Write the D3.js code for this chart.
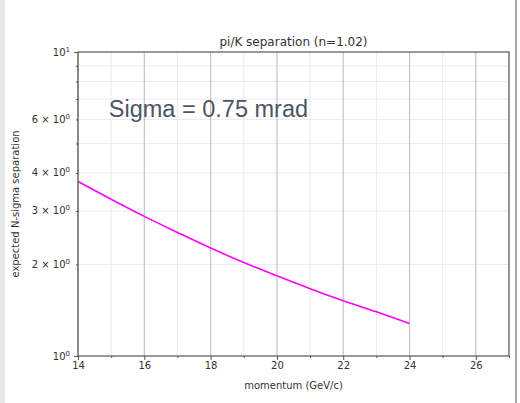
<!DOCTYPE html>
<html>
<head>
<meta charset="utf-8">
<script src="https://cdn.jsdelivr.net/npm/d3@7"></script>
<style>
  html, body { margin: 0; padding: 0; background: #fff; }
  svg { display: block; }
</style>
</head>
<body>
<svg id="chart" width="520" height="403"></svg>
<script>
// momentum (GeV/c)
const momentum = [14, 15, 16, 17, 18, 19, 20, 21, 22, 23, 24];
// expected N-sigma pi/K separation
const separation = [3.75, 3.28, 2.88, 2.55, 2.265, 2.03, 1.835, 1.665, 1.52, 1.397, 1.278];

const xMajorTicks = [14, 16, 18, 20, 22, 24, 26];
const xMinorTicks = [15, 17, 19, 21, 23, 25, 27];
const yMajorTicks = [1, 10];
const yMinorTicks = [2, 3, 4, 5, 6, 7, 8, 9];
const yLabelled = [
  { v: 10, m: "10", e: "1" },
  { v: 6, m: "6 × 10", e: "0" },
  { v: 4, m: "4 × 10", e: "0" },
  { v: 3, m: "3 × 10", e: "0" },
  { v: 2, m: "2 × 10", e: "0" },
  { v: 1, m: "10", e: "0" }
];

const titleText = "pi/K separation (n=1.02)";
const xLabel = "momentum (GeV/c)";
const yLabel = "expected N-sigma separation";
const note = "Sigma = 0.75 mrad";

const svg = d3.select("#chart");
const W = 520, H = 403;
const m = { left: 78, right: 11, top: 52, bottom: 47 };
const pw = W - m.left - m.right, ph = H - m.top - m.bottom;

// page frame
svg.append("rect").attr("x", 0).attr("y", 0).attr("width", 5).attr("height", H).attr("fill", "#e6e6e6");
svg.append("line").attr("x1", 516).attr("x2", 516).attr("y1", 0).attr("y2", H)
  .attr("stroke", "#8a8a8a").attr("stroke-width", 1.5);

const x = d3.scaleLinear().domain([14, 27]).range([m.left, m.left + pw]);
const y = d3.scaleLog().domain([1, 10]).range([m.top + ph, m.top]);

const g = svg.append("g");
const font = "'DejaVu Sans', sans-serif";

// grid
g.selectAll(".gxm").data(xMinorTicks).join("line")
  .attr("x1", d => x(d)).attr("x2", d => x(d)).attr("y1", m.top).attr("y2", m.top + ph)
  .attr("stroke", "#ebebeb").attr("stroke-width", 1);
g.selectAll(".gym").data(yMinorTicks).join("line")
  .attr("x1", m.left).attr("x2", m.left + pw).attr("y1", d => y(d)).attr("y2", d => y(d))
  .attr("stroke", "#ebebeb").attr("stroke-width", 1);
g.selectAll(".gxM").data(xMajorTicks).join("line")
  .attr("x1", d => x(d)).attr("x2", d => x(d)).attr("y1", m.top).attr("y2", m.top + ph)
  .attr("stroke", "#c4c4c4").attr("stroke-width", 1.2);

// note
g.append("text").attr("x", x(14.93)).attr("y", y(6.1))
  .attr("font-family", "'Liberation Sans', Arial, sans-serif").attr("font-size", 23.5)
  .attr("fill", "#4d5563").text(note);

// curve
const line = d3.line().x(d => x(d[0])).y(d => y(d[1])).curve(d3.curveCatmullRom);
g.append("path").datum(momentum.map((p, i) => [p, separation[i]]))
  .attr("d", line).attr("fill", "none").attr("stroke", "#ff00ff").attr("stroke-width", 1.6);

// frame
g.append("rect").attr("x", m.left).attr("y", m.top).attr("width", pw).attr("height", ph)
  .attr("fill", "none").attr("stroke", "#555").attr("stroke-width", 1.2);

// x axis
const xAxis = d3.axisBottom(x).tickValues(xMajorTicks).tickSize(4).tickPadding(2).tickFormat(d3.format("d"));
const xa = g.append("g").attr("transform", `translate(0,${m.top + ph})`).call(xAxis);
xa.select(".domain").remove();
xa.selectAll("line").attr("stroke", "#555");
xa.selectAll("text").attr("font-family", font).attr("font-size", 10).attr("fill", "#333");
const xMinorAxis = d3.axisBottom(x).tickValues(xMinorTicks).tickSize(2).tickFormat("");
const xma = g.append("g").attr("transform", `translate(0,${m.top + ph})`).call(xMinorAxis);
xma.select(".domain").remove();
xma.selectAll("line").attr("stroke", "#555");

// y axis ticks
const yAxis = d3.axisLeft(y).tickValues(yMajorTicks).tickSize(4).tickFormat("");
const ya = g.append("g").attr("transform", `translate(${m.left},0)`).call(yAxis);
ya.select(".domain").remove();
ya.selectAll("line").attr("stroke", "#555");
const yMinorAxis = d3.axisLeft(y).tickValues(yMinorTicks).tickSize(2).tickFormat("");
const yma = g.append("g").attr("transform", `translate(${m.left},0)`).call(yMinorAxis);
yma.select(".domain").remove();
yma.selectAll("line").attr("stroke", "#555");

// y tick labels with superscript exponents
const yl = g.selectAll(".ylab").data(yLabelled).join("text")
  .attr("x", m.left - 8).attr("y", d => y(d.v) + 3.5)
  .attr("text-anchor", "end").attr("font-family", font).attr("font-size", 10).attr("fill", "#333");
yl.append("tspan").text(d => d.m);
yl.append("tspan").attr("dy", -4).attr("font-size", 7).text(d => d.e);

// titles
svg.append("text").attr("x", m.left + pw / 2).attr("y", m.top - 6).attr("text-anchor", "middle")
  .attr("font-family", font).attr("font-size", 12).attr("fill", "#333").text(titleText);
svg.append("text").attr("x", m.left + pw / 2).attr("y", 389).attr("text-anchor", "middle")
  .attr("font-family", font).attr("font-size", 10).attr("fill", "#333").text(xLabel);
svg.append("text").attr("transform", `translate(19,${m.top + ph / 2}) rotate(-90)`)
  .attr("text-anchor", "middle").attr("font-family", font).attr("font-size", 10)
  .attr("fill", "#333").text(yLabel);
</script>
</body>
</html>
